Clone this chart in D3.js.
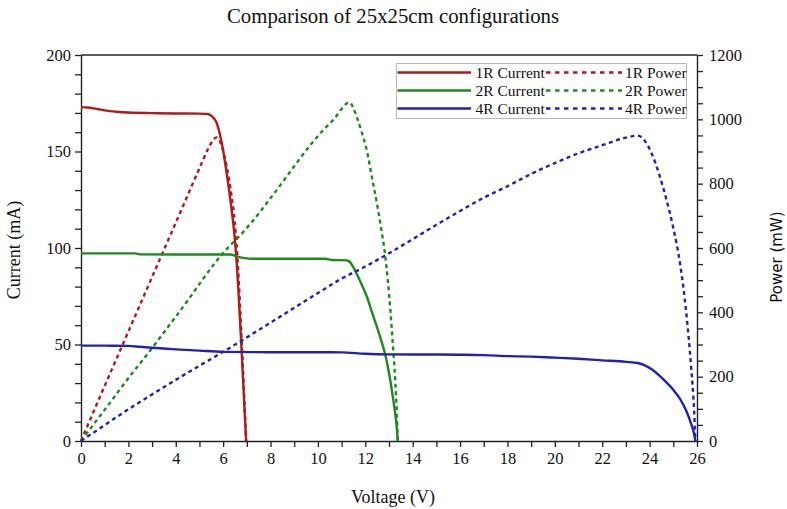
<!DOCTYPE html>
<html>
<head>
<meta charset="utf-8">
<script src="https://cdn.jsdelivr.net/npm/d3@7"></script>
<style>
  html, body { margin: 0; padding: 0; background: #fff; }
  svg { display: block; }
  text { fill: #111; }
</style>
</head>
<body>
<svg id="chart" width="787" height="509"></svg>
<script>
// Voltage (V), current (mA) and power (mW) for each resistor configuration
const volts1R = [0, 0.3, 0.7, 1.0, 1.5, 2.0, 3.0, 4.0, 5.0, 5.35, 5.55, 5.72, 5.93, 6.14, 6.35, 6.49, 6.63, 6.77, 6.91, 6.97];
const current1R = [173.0, 172.8, 172.0, 171.3, 170.6, 170.2, 169.9, 169.7, 169.6, 169.4, 168.0, 165.0, 155.0, 139.5, 120.5, 105.0, 81.0, 49.0, 14.5, 0];
const power1R = [0, 51.8, 120.4, 171.3, 255.9, 340.4, 509.7, 678.8, 848.0, 906.3, 932.4, 943.8, 919.2, 856.5, 765.2, 681.5, 537.0, 331.7, 100.2, 0];

const volts2R = [0, 1.0, 2.3, 2.5, 4.0, 6.3, 6.6, 7.2, 8.0, 10.3, 10.6, 11.2, 11.3, 11.4, 11.5, 11.64, 11.85, 12.06, 12.3, 12.48, 12.66, 12.83, 12.95, 13.06, 13.16, 13.26, 13.33, 13.37];
const current2R = [97.2, 97.2, 97.2, 96.7, 96.6, 96.6, 95.5, 94.4, 94.4, 94.4, 93.8, 93.6, 93.2, 92.0, 89.9, 86.5, 81.0, 75.0, 66.0, 59.5, 52.5, 45.3, 38.5, 31.0, 23.0, 14.5, 6.5, 0];
const power2R = [0, 97.2, 223.6, 241.8, 386.4, 608.6, 630.3, 679.7, 755.2, 972.3, 994.3, 1048.3, 1053.2, 1048.8, 1033.9, 1006.9, 959.9, 904.5, 811.8, 742.6, 664.7, 581.2, 498.6, 404.9, 302.7, 192.3, 86.6, 0];

const volts4R = [0, 1.0, 2.0, 2.5, 3.0, 4.0, 5.0, 6.0, 8.0, 10.0, 11.0, 12.0, 13.0, 15.0, 16.0, 17.0, 18.0, 19.0, 20.0, 21.0, 22.0, 23.0, 23.5, 23.8, 24.1, 24.4, 24.7, 25.0, 25.3, 25.55, 25.75, 25.88, 25.93];
const current4R = [49.4, 49.4, 49.3, 48.8, 48.3, 47.5, 46.8, 46.2, 46.0, 46.0, 45.9, 45.2, 44.9, 44.8, 44.7, 44.5, 44.0, 43.7, 43.2, 42.6, 41.8, 41.0, 40.4, 39.2, 37.0, 34.0, 30.5, 26.5, 21.5, 15.5, 9.0, 3.5, 0];
const power4R = [0, 49.4, 98.6, 122.0, 144.9, 190.0, 234.0, 277.2, 368.0, 460.0, 504.9, 542.4, 583.7, 672.0, 715.2, 756.5, 792.0, 830.3, 864.0, 894.6, 919.6, 943.0, 949.4, 933.0, 891.7, 829.6, 753.4, 662.5, 544.0, 396.0, 231.8, 90.6, 0];

const configNames = ["1R", "2R", "4R"];
const configColors = ["#b01a1a", "#1e8a1e", "#2222ae"];

const voltTicks = d3.range(0, 27, 1);
const currentTicks = d3.range(0, 201, 10);
const powerTicks = d3.range(0, 1201, 50);

const titleText = "Comparison of 25x25cm configurations";
const xTitle = "Voltage (V)";
const yLeftTitle = "Current (mA)";
const yRightTitle = "Power (mW)";

const serif = "'Liberation Serif', 'Times New Roman', serif";
const sans = "'DejaVu Sans', Verdana, sans-serif";

// ---- layout
const svg = d3.select("#chart");
const plot = { left: 81, right: 697, top: 55, bottom: 441 };

const x = d3.scaleLinear().domain([0, 26]).range([plot.left, plot.right]);
const yI = d3.scaleLinear().domain([0, 200]).range([plot.bottom, plot.top]);
const yP = d3.scaleLinear().domain([0, 1200]).range([plot.bottom, plot.top]);

// ---- axes
function styleAxis(g) {
  g.selectAll("path.domain").attr("stroke", "#222").attr("stroke-width", 1.4);
  g.selectAll(".tick line").attr("stroke", "#222").attr("stroke-width", 1.3);
  g.selectAll(".tick text")
    .style("font-family", serif)
    .style("font-size", "16.5px")
    .style("fill", "#111");
}

svg.append("g")
  .attr("transform", `translate(0,${plot.bottom})`)
  .call(d3.axisBottom(x).tickValues(voltTicks).tickSize(6).tickSizeOuter(0).tickPadding(5)
    .tickFormat(d => d % 2 === 0 ? d : ""))
  .call(styleAxis);

svg.append("g")
  .attr("transform", `translate(${plot.left},0)`)
  .call(d3.axisLeft(yI).tickValues(currentTicks).tickSize(6).tickSizeOuter(0).tickPadding(4)
    .tickFormat(d => d % 50 === 0 ? d : ""))
  .call(styleAxis);

svg.append("g")
  .attr("transform", `translate(${plot.right},0)`)
  .call(d3.axisRight(yP).tickValues(powerTicks).tickSize(6).tickSizeOuter(0).tickPadding(6)
    .tickFormat(d => d % 200 === 0 ? d : ""))
  .call(styleAxis);

// top border of the plot frame
svg.append("line")
  .attr("x1", x(0)).attr("x2", x(26))
  .attr("y1", yI(200)).attr("y2", yI(200))
  .attr("stroke", "#222").attr("stroke-width", 1.4);

// ---- series
const series = [
  { name: "1R", v: volts1R, i: current1R, p: power1R },
  { name: "2R", v: volts2R, i: current2R, p: power2R },
  { name: "4R", v: volts4R, i: current4R, p: power4R }
];

const lineI = d3.line().x(d => x(d[0])).y(d => yI(d[1])).curve(d3.curveMonotoneX);
const lineP = d3.line().x(d => x(d[0])).y(d => yP(d[1])).curve(d3.curveMonotoneX);

const lines = svg.append("g");
series.forEach(s => {
  const color = configColors[configNames.indexOf(s.name)];
  lines.append("path")
    .datum(d3.zip(s.v, s.p))
    .attr("d", lineP)
    .attr("fill", "none")
    .attr("stroke", color)
    .attr("stroke-width", 2.4)
    .attr("stroke-dasharray", "4,3.5");
  lines.append("path")
    .datum(d3.zip(s.v, s.i))
    .attr("d", lineI)
    .attr("fill", "none")
    .attr("stroke", color)
    .attr("stroke-width", 2.4);
});

// ---- legend
const legend = svg.append("g");
legend.append("rect")
  .attr("x", 396.5).attr("y", 63.5)
  .attr("width", 290).attr("height", 55)
  .attr("fill", "#fff")
  .attr("stroke", "#b8b8b8").attr("stroke-width", 1);

configNames.forEach((name, k) => {
  const cy = 72.5 + k * 18;
  const color = configColors[k];
  legend.append("line")
    .attr("x1", 397.5).attr("x2", 471).attr("y1", cy).attr("y2", cy)
    .attr("stroke", color).attr("stroke-width", 2.4);
  legend.append("text")
    .attr("x", 475.5).attr("y", cy).attr("dy", "0.34em")
    .style("font-family", serif).style("font-size", "15.5px")
    .text(`${name} Current`);
  legend.append("line")
    .attr("x1", 546).attr("x2", 622).attr("y1", cy).attr("y2", cy)
    .attr("stroke", color).attr("stroke-width", 2.4)
    .attr("stroke-dasharray", "4.5,4.5");
  legend.append("text")
    .attr("x", 625).attr("y", cy).attr("dy", "0.34em")
    .style("font-family", serif).style("font-size", "15.5px")
    .text(`${name} Power`);
});

// ---- titles
svg.append("text")
  .attr("x", 393).attr("y", 23)
  .attr("text-anchor", "middle")
  .style("font-family", serif).style("font-size", "20.8px")
  .text(titleText);

svg.append("text")
  .attr("x", 393).attr("y", 503)
  .attr("text-anchor", "middle")
  .style("font-family", serif).style("font-size", "18px")
  .text(xTitle);

svg.append("text")
  .attr("transform", "translate(20,250) rotate(-90)")
  .attr("text-anchor", "middle")
  .style("font-family", serif).style("font-size", "18px")
  .text(yLeftTitle);

svg.append("text")
  .attr("transform", "translate(782,257) rotate(-90)")
  .attr("text-anchor", "middle")
  .style("font-family", sans).style("font-size", "15px")
  .text(yRightTitle);
</script>
</body>
</html>
